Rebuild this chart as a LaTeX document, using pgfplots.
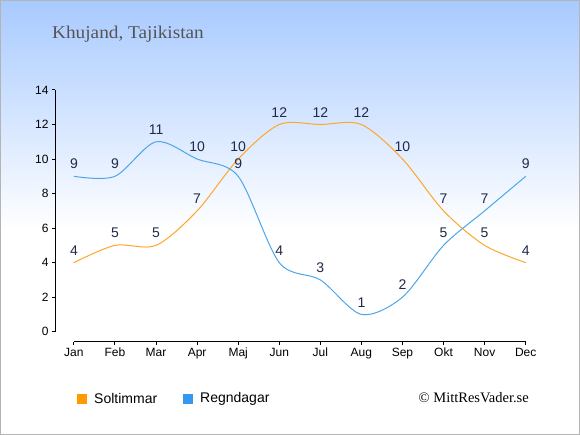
\documentclass[border=0pt]{standalone}
\usepackage{pgfplots}
\pgfplotsset{compat=1.18}
\usepackage{fontspec}
\setmainfont{Liberation Sans}
\newfontfamily\seriffont{Liberation Serif}
\definecolor{sol}{RGB}{255,166,40}
\definecolor{rain}{RGB}{77,166,234}
\definecolor{solsq}{RGB}{255,153,0}
\definecolor{rainsq}{RGB}{51,153,238}
\definecolor{lab}{RGB}{30,42,72}
\definecolor{bgtop}{RGB}{168,202,255}
\definecolor{ttl}{RGB}{85,85,85}
\definecolor{brd}{RGB}{180,180,180}
\begin{document}
\begin{tikzpicture}[x=1pt,y=1pt]
\useasboundingbox (0,0) rectangle (580,435);
\fill[white] (0,0) rectangle (580,435);
\shade[top color=bgtop, bottom color=white] (0,205) rectangle (580,435);
\draw[brd, line width=1pt] (0.5,0.5) rectangle (579.5,434.5);
\node[anchor=base west, inner sep=0, font=\seriffont\fontsize{18}{20}\selectfont, text=ttl] at (52,396.7) {\scalebox{1.07}[1]{Khujand, Tajikistan}};
\begin{axis}[
  at={(55pt,93.3pt)}, anchor=south west,
  width=470.7pt, height=251.7pt, scale only axis,
  xmin=-0.46, xmax=11, ymin=-0.58, ymax=14,
  axis x line=bottom, axis y line=left,
  axis line style={draw=none},
  xtick={0,...,11},
  xticklabels={Jan,Feb,Mar,Apr,Maj,Jun,Jul,Aug,Sep,Okt,Nov,Dec},
  ytick={0,2,...,14},
  tick align=outside, major tick length=3pt,
  tick style={black, line width=1pt},
  ticklabel style={font=\fontsize{12}{14}\selectfont},
  /pgf/number format/assume math mode=true,
  clip=false,
  every node near coord/.append style={font=\fontsize{14}{16}\selectfont, text=lab, yshift=3.5pt},
]
\draw[black, line width=1pt] (axis cs:-0.46,0) -- (axis cs:-0.46,14);
\draw[black, line width=1pt] (axis cs:0,-0.58) -- (axis cs:11,-0.58);
\addplot[sol, line width=1pt, smooth, nodes near coords] coordinates {
(0,4) (1,5) (2,5) (3,7) (4,10) (5,12) (6,12) (7,12) (8,10) (9,7) (10,5) (11,4)};
\addplot[rain, line width=1pt, smooth, nodes near coords] coordinates {
(0,9) (1,9) (2,11) (3,10) (4,9) (5,4) (6,3) (7,1) (8,2) (9,5) (10,7) (11,9)};
\end{axis}
\fill[solsq] (77,31) rectangle (87,41);
\node[anchor=west, inner sep=0, font=\fontsize{14}{16}\selectfont] at (94,36.5) {Soltimmar};
\fill[rainsq] (183,31) rectangle (193,41);
\node[anchor=west, inner sep=0, font=\fontsize{14}{16}\selectfont] at (200,36.5) {Regndagar};
\node[anchor=east, inner sep=0, font=\seriffont\fontsize{14.5}{16}\selectfont] at (529,37) {© MittResVader.se};
\end{tikzpicture}
\end{document}
